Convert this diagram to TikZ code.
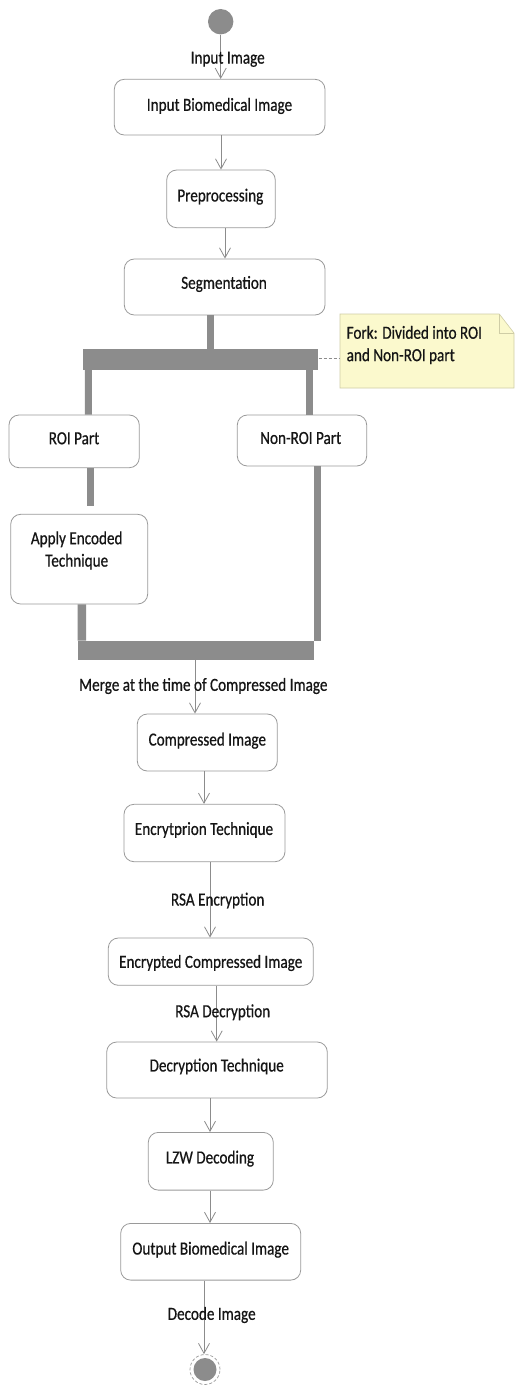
\documentclass[tikz,border=0pt]{standalone}
\usepackage{fontspec}
\setmainfont[FakeStretch=0.82,FakeBold=0.6]{Carlito}
\usetikzlibrary{arrows.meta}
\definecolor{bord}{HTML}{9A9A9A}
\definecolor{barc}{HTML}{8C8C8C}
\definecolor{txt}{HTML}{151515}
\definecolor{notefill}{HTML}{FBF9CD}
\definecolor{notedraw}{HTML}{CFCDA6}
\tikzset{
  act/.style={draw=bord, line width=0.8pt, rounded corners=10pt, inner sep=0pt},
  lbl/.style={text=txt, inner sep=0pt, font=\fontsize{18.5}{22.4}\selectfont},
  arr/.style={draw=barc, line width=0.8pt, -{Straight Barb[length=10pt,width=11pt,line width=0.8pt]}},
  thick bar/.style={draw=barc, line width=#1},
  barnode/.style={fill=barc, inner sep=0pt, draw=none}
}
\begin{document}
\begin{tikzpicture}[x=1pt,y=-1pt]
\useasboundingbox[fill=white] (0,0) rectangle (514,1389);
% start
\node[circle, fill=barc, minimum size=25.4pt, inner sep=0pt] (start) at (220.7,21.7) {};
% activities
\node[act, minimum width=210.7pt, minimum height=55.7pt] (inp) at (219.65,107.15) {};
\node[lbl] at (219.5,106) {Input Biomedical Image};
\node[act, minimum width=108.6pt, minimum height=57.7pt] (pre) at (221,198.85) {};
\node[lbl] at (220.3,196.7) {Preprocessing};
\node[act, minimum width=200.7pt, minimum height=56pt] (seg) at (224.65,287) {};
\node[lbl] at (224,284) {Segmentation};
% fork bar
\node[barnode, minimum width=235.6pt, minimum height=21pt] (fork) at (200.5,359.5) {};
% note
\path[fill=notefill, draw=notedraw, line width=0.6pt] (340,314) -- (499.3,314) -- (514,333) -- (514,388) -- (340,388) -- cycle;
\draw[notedraw, line width=0.6pt] (499.3,314) -- (499.3,333) -- (514,333);
\node[lbl, anchor=west, align=left] (note) at (346.5,345) {Fork: Divided into ROI\\and Non-ROI part};
\coordinate (notel) at (340,358);
\draw[barc, dashed, line width=0.7pt, dash pattern=on 3pt off 2pt] ([yshift=1.5pt]fork.east) -- (notel);
% ROI / non-ROI
\node[act, minimum width=130.3pt, minimum height=52.7pt] (roi) at (74.15,441.35) {};
\node[lbl] at (74,438.3) {ROI Part};
\node[act, minimum width=129.4pt, minimum height=51pt] (nroi) at (302,440.5) {};
\node[lbl] at (300.7,438) {Non-ROI Part};
\node[act, minimum width=137pt, minimum height=89.7pt] (apply) at (79.2,559.15) {};
\node[lbl, align=center] at (76.7,550.5) {Apply Encoded\\Technique};
% merge bar
\node[barnode, minimum width=236.3pt, minimum height=19.3pt] (merge) at (195.85,650.35) {};
% thick connectors
\draw[thick bar=7pt] ([xshift=-14.65pt]seg.south) -- ([xshift=9.5pt]fork.north);
\draw[thick bar=7pt] ([xshift=-112.2pt]fork.south) -- ([xshift=14.15pt]roi.north);
\draw[thick bar=7pt] ([xshift=109pt]fork.south) -- ([xshift=7.5pt]nroi.north);
\draw[thick bar=7pt, shorten >=8pt] ([xshift=15.85pt]roi.south) -- ([xshift=10.8pt]apply.north);
\draw[thick bar=8.3pt] ([xshift=2.65pt]apply.south) -- ([xshift=-114pt]merge.north);
\draw[thick bar=6.4pt] ([xshift=15.5pt]nroi.south) -- ([xshift=121.65pt]merge.north);
% lower chain
\node[act, minimum width=140pt, minimum height=57pt] (comp) at (207.3,742.5) {};
\node[lbl] at (207.3,740.7) {Compressed Image};
\node[act, minimum width=161pt, minimum height=57.4pt] (enc) at (204.5,833) {};
\node[lbl] at (204,830) {Encrytprion Technique};
\node[act, minimum width=205pt, minimum height=47.3pt] (ecomp) at (210.8,961.65) {};
\node[lbl] at (210.7,963) {Encrypted Compressed Image};
\node[act, minimum width=220.6pt, minimum height=56pt] (dec) at (217,1070) {};
\node[lbl] at (216.7,1066.5) {Decryption Technique};
\node[act, minimum width=125pt, minimum height=57.7pt] (lzw) at (210.8,1161.25) {};
\node[lbl] at (210,1158.6) {LZW Decoding};
\node[act, minimum width=180pt, minimum height=56.7pt] (out) at (210.7,1251.75) {};
\node[lbl] at (210.7,1249.7) {Output Biomedical Image};
% end
\node[circle, draw=bord, line width=0.7pt, densely dashed, minimum size=30pt, inner sep=0pt,
  path picture={\fill[barc] (path picture bounding box.center) circle (11.5pt);}] (end) at (205,1369.5) {};
% arrows
\draw[arr] (start.south) -- ([xshift=1.05pt]inp.north);
\draw[arr] ([xshift=1.35pt]inp.south) -- (pre.north);
\draw[arr] ([xshift=4pt]pre.south) -- ([xshift=0.35pt]seg.north);
\draw[arr] ([xshift=-0.85pt]merge.south) -- ([xshift=-12.3pt]comp.north);
\draw[arr] ([xshift=-3.3pt]comp.south) -- ([xshift=-0.5pt]enc.north);
\draw[arr] ([xshift=5.5pt]enc.south) -- ([xshift=-0.8pt]ecomp.north);
\draw[arr] ([xshift=5.9pt]ecomp.south) -- ([xshift=-0.3pt]dec.north);
\draw[arr] ([xshift=-7pt]dec.south) -- ([xshift=-0.8pt]lzw.north);
\draw[arr] ([xshift=-0.8pt]lzw.south) -- ([xshift=-0.7pt]out.north);
\draw[arr] ([xshift=-6.7pt]out.south) -- ([xshift=-1pt]end.north);
% connector labels
\node[lbl] (l1) at (227.7,59.3) {Input Image};
\node[lbl] (l2) at (203.3,686) {Merge at the time of Compressed Image};
\node[lbl] (l3) at (217.7,900.6) {RSA Encryption};
\node[lbl] (l4) at (222.7,1012.3) {RSA Decryption};
\node[lbl] (l5) at (211.7,1315) {Decode Image};
\end{tikzpicture}
\end{document}
